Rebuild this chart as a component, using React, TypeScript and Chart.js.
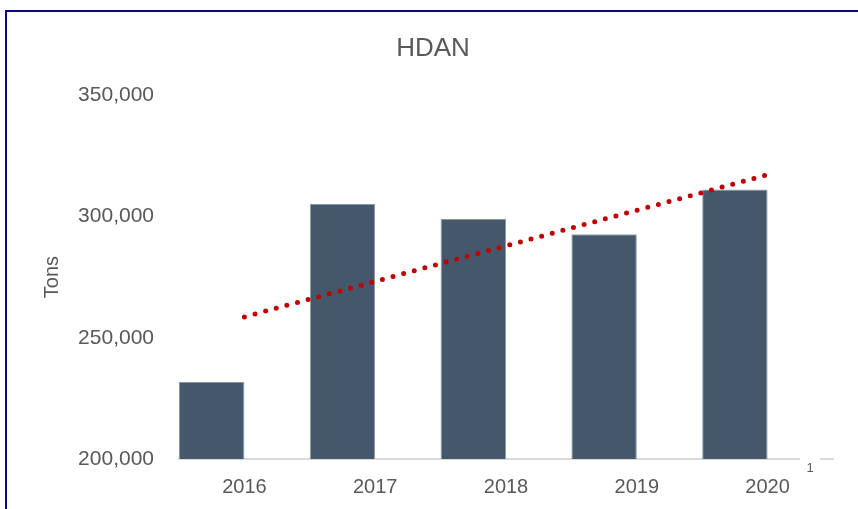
import React, { useEffect, useRef } from "react";
import { Chart, registerables } from "chart.js";

Chart.register(...registerables);

const title = "HDAN";
const yAxisTitle = "Tons";
const categories = ["2016", "2017", "2018", "2019", "2020"];
const categoryIndex = [0, 1, 2, 3, 4];
const tonnage = [231700, 305100, 299000, 292700, 311100];
const trendX = [0, 4];
const trendValues = [258600, 317200];
const yMin = 200000;
const yMax = 350000;
const yStep = 50000;
const secondaryAxisLabel = "1";

const FONT = "'Liberation Sans', Arial, sans-serif";
const TEXT = "#595959";

const secondaryLabelPlugin = {
  id: "secondaryLabel",
  afterDraw(chart: any) {
    const { ctx, chartArea } = chart;
    const x = chartArea.right - 23;
    const y = chartArea.bottom;
    ctx.save();
    ctx.fillStyle = "#ffffff";
    ctx.fillRect(x - 10, y - 3, 20, 6);
    ctx.fillStyle = TEXT;
    ctx.font = `13px ${FONT}`;
    ctx.textAlign = "center";
    ctx.textBaseline = "middle";
    ctx.fillText(secondaryAxisLabel, x, y + 9);
    ctx.restore();
  },
};

export default function App() {
  const ref = useRef<HTMLCanvasElement | null>(null);

  useEffect(() => {
    if (!ref.current) return;
    const chart = new Chart(ref.current, {
      type: "bar",
      data: {
        labels: categories,
        datasets: [
          {
            type: "bar",
            label: "Tons",
            data: categoryIndex.map((x, i) => ({ x, y: tonnage[i] })),
            xAxisID: "xBars",
            backgroundColor: "#44576B",
            borderColor: "#8A98A8",
            borderWidth: { top: 1, left: 1, right: 1, bottom: 0 },
            categoryPercentage: 0.5,
            barPercentage: 1,
            grouped: false,
            order: 2,
          } as any,
          {
            type: "line",
            label: "Trend",
            data: trendX.map((x, i) => ({ x, y: trendValues[i] })),
            xAxisID: "xTrend",
            borderColor: "#C00000",
            borderWidth: 5,
            borderDash: [0, 11],
            borderCapStyle: "round",
            pointRadius: 0,
            fill: false,
            order: 1,
          } as any,
        ],
      },
      options: {
        animation: false,
        responsive: false,
        layout: { padding: { left: 8, right: 0, top: 0, bottom: 0 } },
        plugins: {
          legend: { display: false },
          tooltip: { enabled: false },
          title: {
            display: true,
            text: title,
            color: TEXT,
            font: { family: FONT, size: 26, weight: "normal" },
            padding: { top: 33, bottom: 31 },
          },
        },
        scales: {
          x: {
            type: "category",
            offset: true,
            grid: { display: false, drawTicks: false },
            border: { display: true, color: "#D9D9D9", width: 2 },
            ticks: {
              color: TEXT,
              font: { family: FONT, size: 20 },
              padding: 16,
              maxRotation: 0,
            },
            afterFit(scale: any) {
              scale.height = 50;
            },
          },
          xBars: {
            type: "linear",
            display: false,
            offset: false,
            min: -0.25,
            max: 4.75,
            ticks: { stepSize: 1, includeBounds: false },
          },
          xTrend: {
            type: "linear",
            display: false,
            offset: false,
            min: -0.5,
            max: 4.5,
            ticks: { stepSize: 1, includeBounds: false },
          },
          y: {
            type: "linear",
            min: yMin,
            max: yMax,
            grid: { display: false, drawTicks: false },
            border: { display: false },
            ticks: {
              stepSize: yStep,
              color: TEXT,
              font: { family: FONT, size: 21 },
              padding: 25,
              callback: (v: any) => Number(v).toLocaleString("en-US"),
            },
            title: {
              display: true,
              text: yAxisTitle,
              color: TEXT,
              font: { family: FONT, size: 20 },
              padding: { top: 32, bottom: 0 },
            },
            afterFit(scale: any) {
              scale.width = 171;
            },
          },
          yRight: {
            type: "linear",
            position: "right",
            display: true,
            min: yMin,
            max: yMax,
            grid: { display: false, drawTicks: false },
            border: { display: false },
            ticks: { display: false },
            afterFit(scale: any) {
              scale.width = 25;
            },
          },
        },
      } as any,
      plugins: [secondaryLabelPlugin],
    });
    return () => chart.destroy();
  }, []);

  return (
    <div style={{ position: "fixed", left: 0, top: 0, width: 858, height: 509, background: "#fff", overflow: "hidden" }}>
      <canvas ref={ref} width={858} height={509} style={{ position: "absolute", left: 0, top: 0 }} />
      <div
        style={{
          position: "absolute",
          left: 5,
          top: 10,
          width: 900,
          height: 600,
          border: "2px solid #0A0A78",
          boxSizing: "border-box",
          pointerEvents: "none",
        }}
      />
    </div>
  );
}
